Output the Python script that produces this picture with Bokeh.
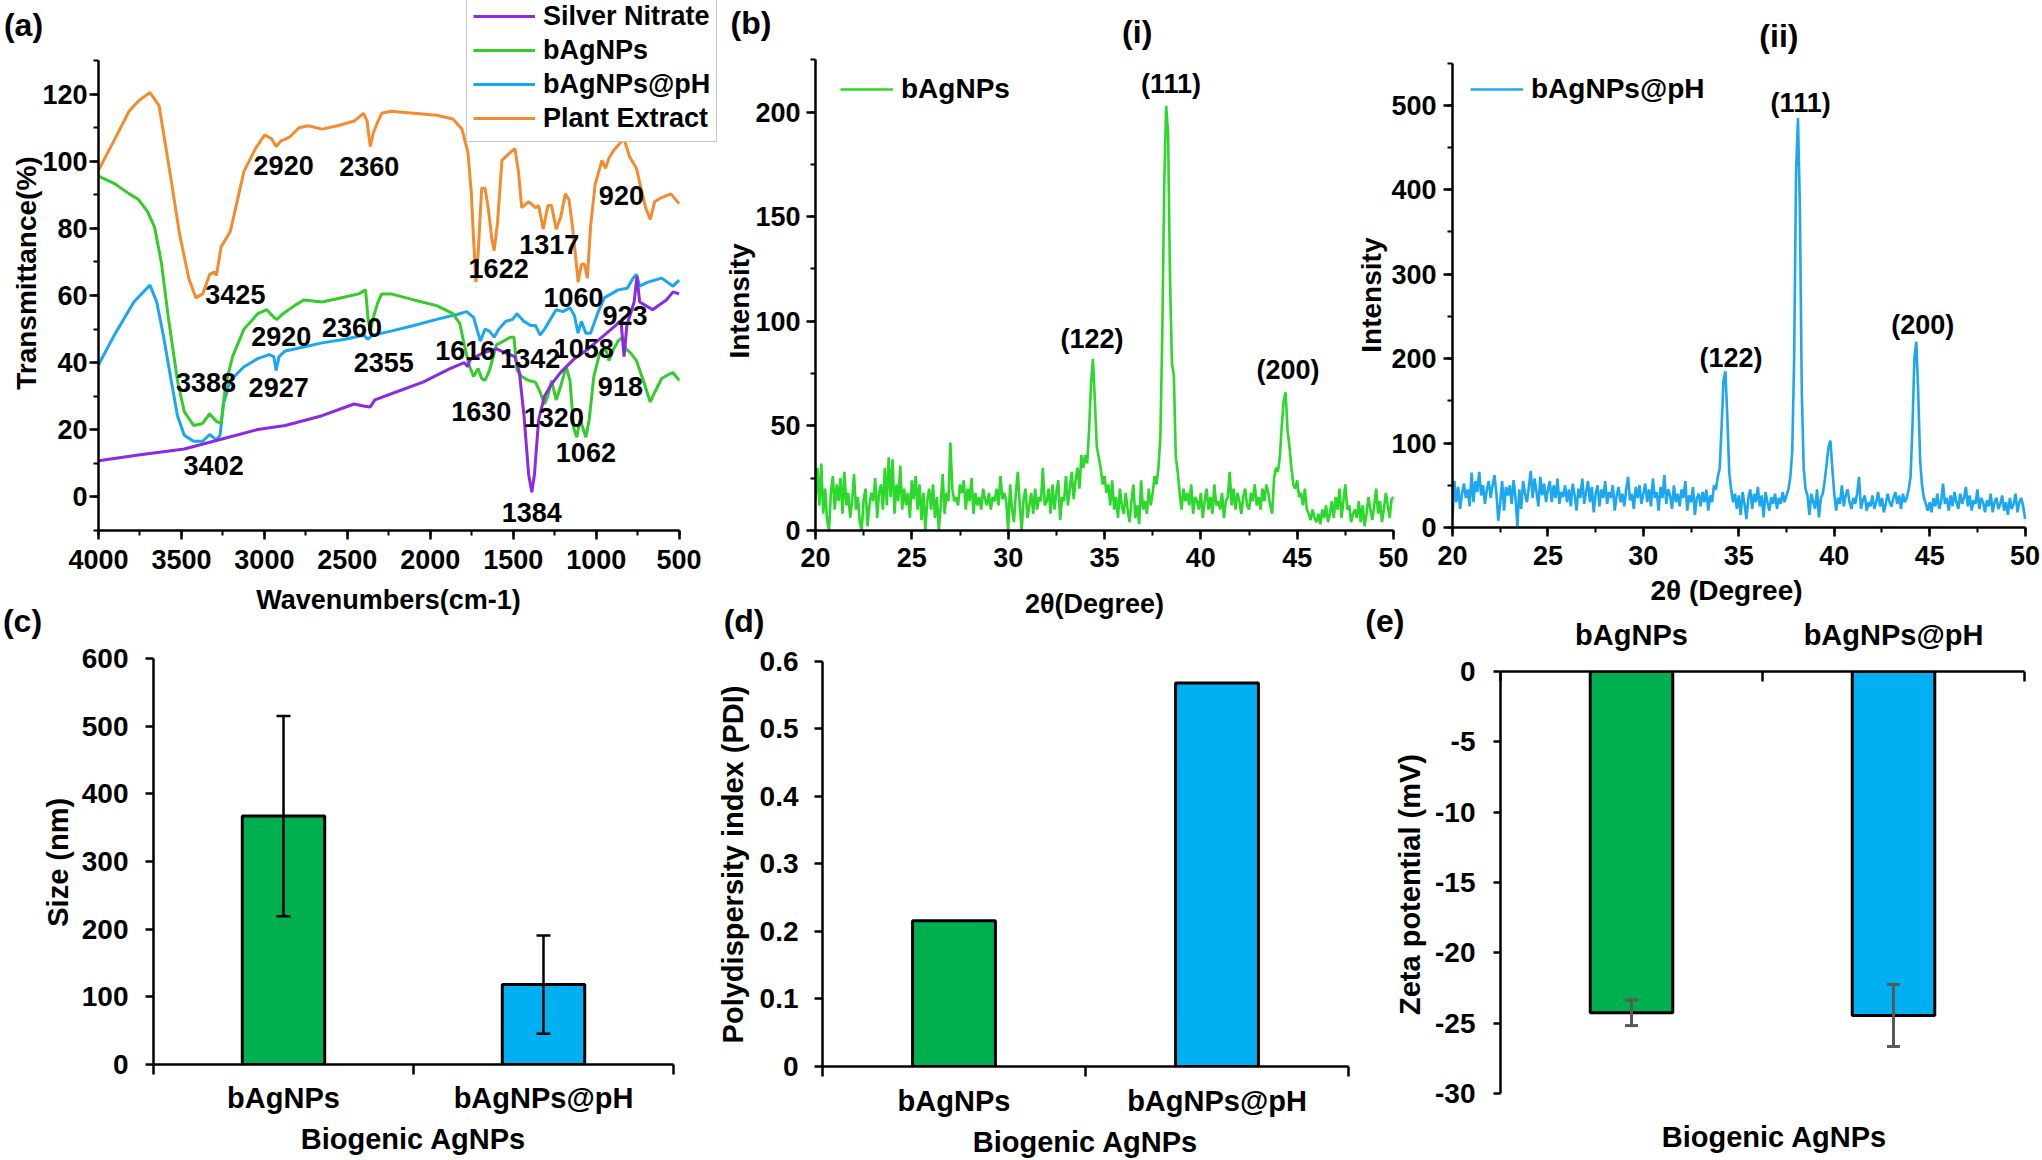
from bokeh.plotting import figure
from bokeh.models import (Range1d, SingleIntervalTicker, FixedTicker, Legend, LegendItem,
                          Label, Whisker, TeeHead, ColumnDataSource)
from bokeh.embed import file_html
from bokeh.resources import INLINE
from bokeh.core.properties import value

# ---------------- data ----------------
# (a) FTIR spectra: wavenumber (cm-1) and transmittance (%)
SILVER_WN = [4000, 3759, 3483, 3261, 3040, 2874, 2652, 2459, 2403, 2362, 2334, 2210, 2044, 1878, 1795,
             1773, 1762, 1684, 1601, 1546, 1490, 1463, 1435, 1407, 1388, 1372, 1347, 1311, 1269, 1214,
             1131, 1048, 965, 882, 860, 849, 832, 815, 771, 754, 738, 660, 577, 536, 500]
SILVER_T = [10.8, 12.5, 14.3, 17.2, 20.1, 21.3, 24.2, 27.7, 27.1, 26.8, 28.9, 31.2, 34.2, 38.3, 40,
            38.8, 40.8, 42.9, 44.1, 42.9, 41.8, 37.1, 24.2, 6.7, 1.4, 6.7, 23, 30.1, 33.6, 37.1,
            41.2, 44.1, 47.6, 51.1, 52.3, 51.7, 41.8, 51.1, 58.1, 65.8, 58.1, 55.8, 58.7, 61.1, 60.5]

BAG_WN = [4000, 3898, 3815, 3759, 3704, 3662, 3621, 3579, 3524, 3483, 3427, 3372, 3330, 3289, 3261,
          3233, 3192, 3123, 3040, 2985, 2943, 2924, 2888, 2818, 2763, 2652, 2542, 2431, 2390, 2376,
          2362, 2343, 2315, 2293, 2237, 2099, 1961, 1864, 1822, 1795, 1767, 1739, 1712, 1690, 1670,
          1643, 1601, 1560, 1518, 1496, 1477, 1449, 1407, 1366, 1338, 1311, 1291, 1269, 1241, 1214,
          1181, 1158, 1136, 1117, 1098, 1081, 1062, 1042, 1014, 978, 943, 923, 895, 868, 840,
          821, 793, 757, 716, 674, 647, 605, 564, 536, 500]
BAG_T = [95.6, 93.2, 90.3, 88.6, 85, 80.4, 69.8, 53.5, 34.7, 25.4, 21.3, 21.9, 24.8, 22.5, 21.9,
         33.6, 41.8, 50, 54.6, 55.8, 53.5, 52.9, 54.6, 57, 58.7, 58.1, 59.3, 60.5, 61.7, 53.5,
         49.4, 53.5, 58.1, 60.5, 60.5, 58.7, 57, 54.6, 51.7, 45.3, 39.4, 35.9, 38.3, 35.3, 34.7,
         37.7, 45.3, 46.4, 47.6, 47.6, 37.7, 35.9, 34.7, 34.2, 31.2, 27.7, 30.1, 34.7, 28.9, 33,
         38.8, 34.7, 20.7, 17.8, 23, 20.7, 17.8, 23, 35.9, 42.9, 44.1, 40.6, 44.1, 46.4, 47.6,
         44.1, 42.9, 40.6, 34.7, 28.3, 31.2, 35.3, 36.5, 37, 34.7]

BAGPH_WN = [4000, 3898, 3787, 3690, 3649, 3607, 3566, 3524, 3483, 3427, 3372, 3330, 3289, 3267, 3247,
            3206, 3123, 3040, 2971, 2943, 2929, 2912, 2874, 2763, 2652, 2514, 2403, 2376, 2348, 2237,
            2099, 1961, 1822, 1781, 1739, 1712, 1698, 1670, 1643, 1615, 1587, 1546, 1504, 1477, 1435,
            1394, 1366, 1338, 1311, 1269, 1241, 1200, 1158, 1131, 1109, 1089, 1062, 1034, 992, 951,
            909, 868, 812, 777, 757, 738, 688, 605, 536, 500]
BAGPH_T = [39.4, 48.8, 58.1, 63.1, 58.1, 47.6, 35.9, 24.2, 18.4, 16.6, 16.6, 18.6, 17, 18.4, 27.7,
           34.7, 38.8, 41.2, 42.4, 41.8, 37.7, 41.8, 43.5, 44.7, 45.9, 47, 48.2, 47, 48.2, 49.4,
           51.1, 52.9, 54.6, 55.2, 53.5, 48.8, 46.4, 50, 49.4, 47.6, 50, 52.3, 52.9, 54.6, 52.3,
           51.1, 51.1, 48.2, 50, 53.5, 55.8, 55.2, 56.4, 54, 48.8, 52.3, 48.8, 48.8, 54.6, 59.3,
           60.5, 61.7, 62.2, 65.2, 66.3, 62.8, 64, 65.2, 62.8, 64.6]

PLANT_WN = [4000, 3898, 3815, 3759, 3690, 3635, 3566, 3510, 3455, 3413, 3372, 3330, 3303, 3289, 3261,
            3206, 3123, 3054, 2998, 2957, 2929, 2902, 2846, 2791, 2735, 2652, 2542, 2459, 2403, 2381,
            2362, 2343, 2315, 2293, 2237, 2099, 1961, 1864, 1809, 1773, 1753, 1739, 1725, 1712, 1690,
            1670, 1651, 1629, 1615, 1595, 1568, 1532, 1490, 1468, 1449, 1407, 1366, 1347, 1319, 1291,
            1269, 1241, 1214, 1186, 1164, 1145, 1125, 1109, 1089, 1070, 1053, 1034, 1006, 965, 943,
            923, 895, 854, 832, 799, 757, 730, 702, 674, 647, 605, 550, 500]
PLANT_T = [97.3, 107, 115, 118, 120.5, 116.6, 95.6, 78, 65, 59.3, 60.5, 66.3, 67, 66, 74.5,
           79, 97, 103.8, 107.9, 106.7, 104.4, 106, 107.3, 110, 110.6, 109.6, 110.8, 112, 114.3, 112,
           104.4, 108.5, 112, 114.3, 114.9, 114.3, 113.7, 112.6, 109.6, 102.6, 90.9, 76.9, 64, 72.2, 92,
           92, 86.2, 76.9, 73.4, 81.5, 100.3, 102, 103.8, 96.8, 86.2, 88, 86.2, 86.8, 79.8, 86.8,
           86.8, 79.8, 83.3, 90.3, 88.6, 81.5, 72.2, 64, 69.3, 69.3, 65.2, 80.4, 93.2, 100.3, 97.9,
           100.9, 103.2, 105.5, 106.7, 101.4, 97.9, 92, 86.2, 82.7, 88, 89.2, 90.3, 87.4]

FTIR_LABEL_TEXT = ["3425", "2920", "2360", "1622", "1317", "920", "1060", "923", "2920", "2360", "3388",
                   "2927", "2355", "1616", "1342", "1058", "918", "1630", "1320", "1062", "3402", "1384"]
FTIR_LABEL_WN = [3175, 2884, 2368, 1588, 1283, 848, 1136, 826, 2898, 2472, 3352,
                 2914, 2281, 1789, 1397, 1075, 854, 1693, 1255, 1062, 3306, 1388]
FTIR_LABEL_T = [60.2, 98.7, 98.4, 68.2, 75.1, 89.7, 59.3, 54.1, 47.8, 50.5, 34.1,
                32.5, 40.1, 43.6, 41.1, 44.1, 33.0, 25.4, 23.6, 13.1, 9.5, -4.6]

# (b) XRD patterns, 2theta from 20 to 50 deg in 0.1 deg steps
XRD_START = 20.0
XRD_STEP = 0.1
XRD_BAGNPS = [
    15, 30, 12, 32, 8, 20, 5, 0, 18, 26,
    10, 22, 14, 25, 8, 28, 12, 18, 6, 14,
    27, 10, 16, 4, 0, 15, 20, 2, 12, 18,
    14, 25, 6, 18, 22, 10, 30, 12, 35, 16,
    34, 8, 22, 14, 31, 10, 20, 12, 18, 6,
    24, 15, 26, 10, 22, 5, 18, 0, 14, 20,
    10, 22, 6, 16, 0, 12, 27, 8, 18, 14,
    42, 20, 14, 16, 12, 22, 18, 24, 10, 20,
    14, 25, 8, 18, 12, 16, 10, 20, 15, 12,
    18, 10, 16, 14, 20, 12, 26, 15, 18, 14,
    0, 22, 10, 4, 18, 28, 12, 0, 15, 20,
    6, 12, 18, 8, 20, 10, 16, 14, 30, 12,
    14, 20, 8, 22, 10, 18, 24, 5, 16, 14,
    26, 12, 20, 28, 15, 24, 30, 20, 36, 30,
    36, 32, 48, 70, 82, 62, 40, 35, 30, 22,
    26, 18, 22, 12, 24, 10, 16, 6, 20, 12,
    8, 18, 10, 4, 14, 22, 6, 12, 3, 24,
    10, 14, 8, 20, 12, 18, 26, 22, 30, 45,
    95, 165, 203, 190, 120, 80, 74, 35, 28, 18,
    10, 20, 14, 18, 12, 22, 8, 16, 14, 10,
    18, 6, 14, 20, 10, 16, 8, 22, 12, 14,
    10, 18, 6, 14, 16, 28, 12, 20, 10, 18,
    14, 8, 16, 20, 12, 10, 18, 14, 22, 12,
    16, 10, 20, 14, 22, 18, 12, 8, 25, 30,
    28, 35, 50, 62, 66, 48, 40, 30, 22, 20,
    24, 16, 18, 12, 20, 10, 8, 5, 10, 6,
    4, 8, 3, 10, 6, 12, 4, 8, 14, 6,
    16, 10, 20, 6, 14, 22, 10, 12, 4, 8,
    10, 6, 14, 4, 12, 2, 8, 16, 10, 5,
    12, 20, 8, 14, 4, 10, 18, 12, 6, 15,
    16]
XRD_BAGNPS_PH = [
    12, 55, 30, 48, 22, 40, 52, 35, 45, 25,
    65, 30, 55, 42, 66, 38, 50, 28, 45, 55,
    35, 50, 62, 40, 8, 30, 55, 20, 48, 38,
    50, 28, 56, 35, 2, 45, 22, 55, 40, 30,
    48, 67, 35, 58, 42, 25, 60, 38, 52, 30,
    45, 55, 30, 50, 35, 58, 28, 42, 36, 50,
    30, 45, 25, 52, 38, 20, 46, 35, 58, 28,
    42, 55, 30, 48, 18, 40, 50, 25, 45, 35,
    55, 28, 42, 35, 50, 20, 38, 48, 30, 40,
    25, 45, 60, 32, 40, 22, 48, 35, 50, 28,
    40, 52, 30, 45, 25, 58, 35, 42, 20, 48,
    35, 62, 28, 45, 38, 22, 50, 30, 40, 25,
    45, 35, 55, 20, 38, 30, 48, 15, 35, 40,
    25, 42, 30, 45, 20, 38, 30, 50, 45, 60,
    70, 120, 175, 185, 130, 65, 45, 30, 40, 22,
    38, 15, 42, 28, 10, 35, 45, 22, 40, 30,
    48, 25, 38, 12, 42, 30, 20, 36, 28, 40,
    22, 35, 28, 42, 30, 38, 45, 60, 90, 200,
    420, 485, 380, 160, 70, 45, 38, 15, 40, 30,
    22, 45, 12, 35, 40, 55, 75, 95, 103, 70,
    40, 20, 35, 28, 50, 25, 38, 45, 30, 22,
    35, 28, 40, 60, 22, 32, 38, 20, 30, 25,
    38, 22, 30, 42, 25, 35, 18, 28, 40, 30,
    25, 35, 42, 28, 38, 22, 40, 30, 35, 45,
    60, 120, 200, 220, 160, 80, 50, 35, 28, 20,
    30, 18, 35, 25, 40, 22, 30, 52, 28, 35,
    20, 38, 25, 42, 30, 22, 40, 28, 35, 48,
    25, 38, 20, 32, 28, 45, 22, 35, 30, 18,
    32, 25, 40, 18, 30, 35, 22, 28, 38, 20,
    30, 15, 35, 22, 28, 40, 18, 30, 35, 25,
    10]
XRD1_LABEL_TEXT = ["(111)", "(122)", "(200)"]
XRD1_LABEL_X = [38.45, 34.35, 44.52]
XRD1_LABEL_Y = [213.6, 91.7, 76.5]
XRD2_LABEL_TEXT = ["(111)", "(122)", "(200)"]
XRD2_LABEL_X = [38.24, 34.59, 44.64]
XRD2_LABEL_Y = [503, 200.3, 240]

# (c)-(e) bar charts
CATEGORIES = ["bAgNPs", "bAgNPs@pH"]
SIZE_NM = [367, 118]
SIZE_ERR = [148, 72.6]
PDI = [0.216, 0.568]
ZETA_MV = [-24.26, -24.45]
ZETA_ERR = [0.91, 2.2]
PDI_TICKS = [0, 0.1, 0.2, 0.3, 0.4, 0.5, 0.6]
PDI_TICK_TEXT = ["0", "0.1", "0.2", "0.3", "0.4", "0.5", "0.6"]
ZETA_TICKS = [-30, -25, -20, -15, -10, -5, 0]
ZETA_TICK_TEXT = ["-30", "-25", "-20", "-15", "-10", "-5", "0"]

# ---------------- styling ----------------
FONT = "Liberation Sans"
PURPLE, GREEN, BLUE, ORANGE = "#8a2be2", "#35cc2b", "#1ba6f2", "#f28c2e"
XRD_GREEN, XRD_BLUE = "#2bd82b", "#1ea7ef"
BAR_COLORS = ["#00B050", "#00B0F0"]
PAGE_W, PAGE_H = 2040, 1158


def lin(p1, v1, p2, v2):
    return lambda p: v1 + (p - p1) * (v2 - v1) / (p2 - p1)


def make_fig(canvas, frame, xmap, ymap, xloc="below"):
    cl, ct, cr, cb = canvas
    fl, ft, fr, fb = frame
    p = figure(width=int(round(cr - cl)), height=int(round(cb - ct)),
               x_range=Range1d(xmap(fl), xmap(fr)), y_range=Range1d(ymap(fb), ymap(ft)),
               output_backend="svg", toolbar_location=None, x_axis_location=xloc, title=None,
               min_border_left=int(round(fl - cl)), min_border_right=int(round(cr - fr)),
               min_border_top=int(round(ft - ct)), min_border_bottom=int(round(cb - fb)))
    p.xgrid.visible = False
    p.ygrid.visible = False
    p.outline_line_color = None
    p.background_fill_color = None
    p.border_fill_color = None
    p.styles = {"position": "absolute", "left": f"{int(round(cl))}px", "top": f"{int(round(ct))}px"}
    return p


def style_axes(p, tick_size="27px"):
    for ax in p.axis:
        ax.axis_line_width = 2.5
        ax.axis_line_color = "black"
        ax.major_tick_line_width = 2.5
        ax.major_tick_line_color = "black"
        ax.minor_tick_line_width = 2
        ax.minor_tick_line_color = "black"
        ax.major_tick_in = 0
        ax.major_tick_out = 9
        ax.minor_tick_in = 0
        ax.minor_tick_out = 5
        ax.major_label_text_font = FONT
        ax.major_label_text_font_style = "bold"
        ax.major_label_text_font_size = tick_size
        ax.major_label_text_color = "black"


def add_texts(p, xs, ys, texts, size="27px"):
    src = ColumnDataSource(dict(x=xs, y=ys, t=texts))
    p.text(x="x", y="y", text="t", source=src, text_font=value(FONT), text_font_style="bold",
           text_font_size=size, text_color="black", text_align="center", text_baseline="middle")


# ---------- (a) FTIR ----------
XA = lin(97.8, 4000, 678.6, 500)
YA = lin(529.8, -10, 60.1, 130)
pa = make_fig((0, 0, 722, 600), (97.8, 0, 722, 529.8), XA, YA)
r_or = pa.line(PLANT_WN, PLANT_T, line_color=ORANGE, line_width=3)
r_bl = pa.line(BAGPH_WN, BAGPH_T, line_color=BLUE, line_width=3)
r_gr = pa.line(BAG_WN, BAG_T, line_color=GREEN, line_width=3)
r_pu = pa.line(SILVER_WN, SILVER_T, line_color=PURPLE, line_width=3)
add_texts(pa, FTIR_LABEL_WN, FTIR_LABEL_T, FTIR_LABEL_TEXT)
style_axes(pa)
pa.xaxis.ticker = SingleIntervalTicker(interval=500, num_minor_ticks=2)
pa.xaxis.bounds = (500, 4000)
pa.yaxis.ticker = SingleIntervalTicker(interval=20, num_minor_ticks=2)
pa.yaxis.bounds = (-10, 130)
pa.xaxis.major_label_standoff = 10
pa.yaxis.major_label_standoff = 2
leg_a = Legend(items=[LegendItem(label="Silver Nitrate", renderers=[r_pu]),
                      LegendItem(label="bAgNPs", renderers=[r_gr]),
                      LegendItem(label="bAgNPs@pH", renderers=[r_bl]),
                      LegendItem(label="Plant Extract", renderers=[r_or])],
               location=(int(round(466 - 97.8)), int(round(529.8 - 142))),
               label_text_font=FONT, label_text_font_style="bold", label_text_font_size="27px",
               label_text_color="black",
               glyph_width=62, glyph_height=34, label_height=34, label_standoff=8,
               padding=6, spacing=0, margin=0, border_line_color="#8c8c8c", border_line_width=1.5,
               background_fill_color="white", background_fill_alpha=1.0)
pa.add_layout(leg_a)

# ---------- (b)(i) XRD bAgNPs ----------
XB1 = lin(814.7, 20, 1393, 50)
YB1 = lin(529.8, 0, 111.5, 200)
pb1 = make_fig((740, 0, 1410, 600), (814.7, 0, 1410, 529.8), XB1, YB1)
xs1 = [round(XRD_START + XRD_STEP * i, 2) for i in range(len(XRD_BAGNPS))]
r_x1 = pb1.line(xs1, XRD_BAGNPS, line_color=XRD_GREEN, line_width=2.6)
add_texts(pb1, XRD1_LABEL_X, XRD1_LABEL_Y, XRD1_LABEL_TEXT)
style_axes(pb1)
pb1.xaxis.ticker = SingleIntervalTicker(interval=5, num_minor_ticks=2)
pb1.xaxis.bounds = (20, 50)
pb1.yaxis.ticker = SingleIntervalTicker(interval=50, num_minor_ticks=2)
pb1.yaxis.bounds = (0, 225)
pb1.xaxis.major_label_standoff = 8
pb1.yaxis.major_label_standoff = 6
leg_b1 = Legend(items=[LegendItem(label="bAgNPs", renderers=[r_x1])],
                location=(int(round(840 - 814.7)), int(round(529.8 - 106))),
                label_text_font=FONT, label_text_font_style="bold", label_text_font_size="28px",
                label_text_color="black",
                glyph_width=53, glyph_height=34, label_height=34, label_standoff=8,
                padding=4, spacing=0, margin=0, border_line_color=None, background_fill_alpha=0)
pb1.add_layout(leg_b1)

# ---------- (b)(ii) XRD bAgNPs@pH ----------
XB2 = lin(1452.2, 20, 2024.6, 50)
YB2 = lin(527, 0, 104.8, 500)
pb2 = make_fig((1380, 0, PAGE_W, 600), (1452.2, 0, PAGE_W, 527), XB2, YB2)
xs2 = [round(XRD_START + XRD_STEP * i, 2) for i in range(len(XRD_BAGNPS_PH))]
r_x2 = pb2.line(xs2, XRD_BAGNPS_PH, line_color=XRD_BLUE, line_width=2.6)
add_texts(pb2, XRD2_LABEL_X, XRD2_LABEL_Y, XRD2_LABEL_TEXT)
style_axes(pb2)
pb2.xaxis.ticker = SingleIntervalTicker(interval=5, num_minor_ticks=2)
pb2.xaxis.bounds = (20, 50)
pb2.yaxis.ticker = SingleIntervalTicker(interval=100, num_minor_ticks=2)
pb2.yaxis.bounds = (0, 550)
pb2.xaxis.major_label_standoff = 9
pb2.yaxis.major_label_standoff = 7
leg_b2 = Legend(items=[LegendItem(label="bAgNPs@pH", renderers=[r_x2])],
                location=(int(round(1470 - 1452.2)), int(round(527 - 106))),
                label_text_font=FONT, label_text_font_style="bold", label_text_font_size="28px",
                label_text_color="black",
                glyph_width=53, glyph_height=34, label_height=34, label_standoff=8,
                padding=4, spacing=0, margin=0, border_line_color=None, background_fill_alpha=0)
pb2.add_layout(leg_b2)

# ---------- bar chart helpers ----------
CAT_X = [i + 0.5 for i in range(len(CATEGORIES))]
CAT_EDGES = list(range(len(CATEGORIES) + 1))


def cat_axis(ax, inward=False):
    ax.ticker = FixedTicker(ticks=CAT_X, minor_ticks=CAT_EDGES)
    ax.major_label_overrides = {x: c for x, c in zip(CAT_X, CATEGORIES)}
    ax.major_label_text_font_size = "29px"
    ax.major_tick_line_color = None
    ax.major_tick_out = 0
    ax.major_tick_in = 0
    ax.minor_tick_line_width = 2.5
    if inward:
        ax.minor_tick_in = 10
        ax.minor_tick_out = 0
    else:
        ax.minor_tick_out = 10
        ax.minor_tick_in = 0


# ---------- (c) size ----------
XC = lin(153.1, 0, 673.2, 2)
YC = lin(1063.6, 0, 657.8, 600)
pc = make_fig((50, 604, 700, PAGE_H), (153.1, 604, 673.2, 1063.6), XC, YC)
src_c = ColumnDataSource(dict(x=CAT_X, top=SIZE_NM, color=BAR_COLORS,
                              upper=[v + e for v, e in zip(SIZE_NM, SIZE_ERR)],
                              lower=[v - e for v, e in zip(SIZE_NM, SIZE_ERR)]))
pc.vbar(x="x", top="top", bottom=0, width=0.317, source=src_c, fill_color="color",
        line_color="black", line_width=3)
pc.add_layout(Whisker(source=src_c, base="x", upper="upper", lower="lower", line_color="black",
                      line_width=2.5, level="overlay",
                      upper_head=TeeHead(size=14, line_color="black", line_width=2.5),
                      lower_head=TeeHead(size=14, line_color="black", line_width=2.5)))
style_axes(pc, tick_size="28px")
cat_axis(pc.xaxis[0])
pc.yaxis.ticker = SingleIntervalTicker(interval=100, num_minor_ticks=0)
pc.yaxis.bounds = (0, 600)
pc.yaxis.major_tick_out = 8
pc.yaxis.major_label_standoff = 17
pc.xaxis.major_label_standoff = 7

# ---------- (d) PDI ----------
XD = lin(821.7, 0, 1347.6, 2)
YD = lin(1065.8, 0, 660.9, 0.6)
pd_ = make_fig((720, 604, 1380, PAGE_H), (821.7, 604, 1347.6, 1065.8), XD, YD)
src_d = ColumnDataSource(dict(x=CAT_X, top=PDI, color=BAR_COLORS))
pd_.vbar(x="x", top="top", bottom=0, width=0.315, source=src_d, fill_color="color",
         line_color="black", line_width=3)
style_axes(pd_, tick_size="28px")
cat_axis(pd_.xaxis[0])
pd_.yaxis.ticker = FixedTicker(ticks=PDI_TICKS, minor_ticks=[])
pd_.yaxis.major_label_overrides = {t: s for t, s in zip(PDI_TICKS, PDI_TICK_TEXT)}
pd_.yaxis.bounds = (0, 0.6)
pd_.yaxis.major_tick_out = 8
pd_.yaxis.major_label_standoff = 16
pd_.xaxis.major_label_standoff = 8

# ---------- (e) zeta potential ----------
XE = lin(1499.6, 0, 2024, 2)
YE = lin(670.7, 0, 1093, -30)
pe = make_fig((1420, 598, PAGE_W, PAGE_H), (1499.6, 670.7, 2024, PAGE_H), XE, YE, xloc="above")
src_e = ColumnDataSource(dict(x=CAT_X, bottom=ZETA_MV, color=BAR_COLORS,
                              upper=[v + e for v, e in zip(ZETA_MV, ZETA_ERR)],
                              lower=[v - e for v, e in zip(ZETA_MV, ZETA_ERR)]))
pe.vbar(x="x", top=0, bottom="bottom", width=0.315, source=src_e, fill_color="color",
        line_color="black", line_width=3)
pe.add_layout(Whisker(source=src_e, base="x", upper="upper", lower="lower", line_color="#595959",
                      line_width=3, level="overlay",
                      upper_head=TeeHead(size=13, line_color="#595959", line_width=3),
                      lower_head=TeeHead(size=13, line_color="#595959", line_width=3)))
style_axes(pe, tick_size="28px")
cat_axis(pe.xaxis[0], inward=True)
pe.xaxis.major_label_standoff = 21
pe.yaxis.ticker = FixedTicker(ticks=ZETA_TICKS, minor_ticks=[])
pe.yaxis.major_label_overrides = {t: s for t, s in zip(ZETA_TICKS, ZETA_TICK_TEXT)}
pe.yaxis.bounds = (-30, 0)
pe.yaxis.major_tick_out = 7
pe.yaxis.major_label_standoff = 18

# ---------- text overlay (panel letters, axis titles) ----------
ov = figure(width=PAGE_W, height=PAGE_H, x_range=Range1d(0, PAGE_W), y_range=Range1d(0, PAGE_H),
            output_backend="svg", toolbar_location=None, x_axis_location=None,
            y_axis_location=None, title=None,
            min_border_left=0, min_border_right=0, min_border_top=0, min_border_bottom=0)
for g in ov.grid:
    g.visible = False
ov.outline_line_color = None
ov.background_fill_color = None
ov.border_fill_color = None
ov.styles = {"position": "absolute", "left": "0px", "top": "0px"}


def ov_text(x, y, text, size, angle=0.0):
    ov.add_layout(Label(x=x, y=PAGE_H - y, text=text, angle=angle, text_font=FONT,
                        text_font_style="bold", text_font_size=size, text_color="black",
                        text_align="center", text_baseline="middle"))


HALF_PI = 1.5707963267948966
# panel letters and sub-titles
ov_text(23, 24, "(a)", "32px")
ov_text(750.5, 22, "(b)", "32px")
ov_text(1136.7, 31.6, "(i)", "32px")
ov_text(1778.4, 35.6, "(ii)", "32px")
ov_text(22, 620.7, "(c)", "32px")
ov_text(743.6, 620.7, "(d)", "32px")
ov_text(1384.4, 620.7, "(e)", "32px")
# axis titles
ov_text(25.5, 272.6, "Transmittance(%)", "28px", HALF_PI)
ov_text(388, 599.3, "Wavenumbers(cm-1)", "27px")
ov_text(739, 300.5, "Intensity", "28px", HALF_PI)
ov_text(1094, 603.7, "2θ(Degree)", "27px")
ov_text(1371, 294.6, "Intensity", "28px", HALF_PI)
ov_text(1726, 590.4, "2θ (Degree)", "28px")
ov_text(57, 861.8, "Size (nm)", "29px", HALF_PI)
ov_text(413, 1138.6, "Biogenic AgNPs", "29px")
ov_text(732.4, 864, "Polydispersity index (PDI)", "29px", HALF_PI)
ov_text(1085, 1141.7, "Biogenic AgNPs", "29px")
ov_text(1409, 884, "Zeta potential (mV)", "29px", HALF_PI)
ov_text(1774, 1136, "Biogenic AgNPs", "29px")

open("out.html", "w").write(file_html([pa, pb1, pb2, pc, pd_, pe, ov], INLINE))
